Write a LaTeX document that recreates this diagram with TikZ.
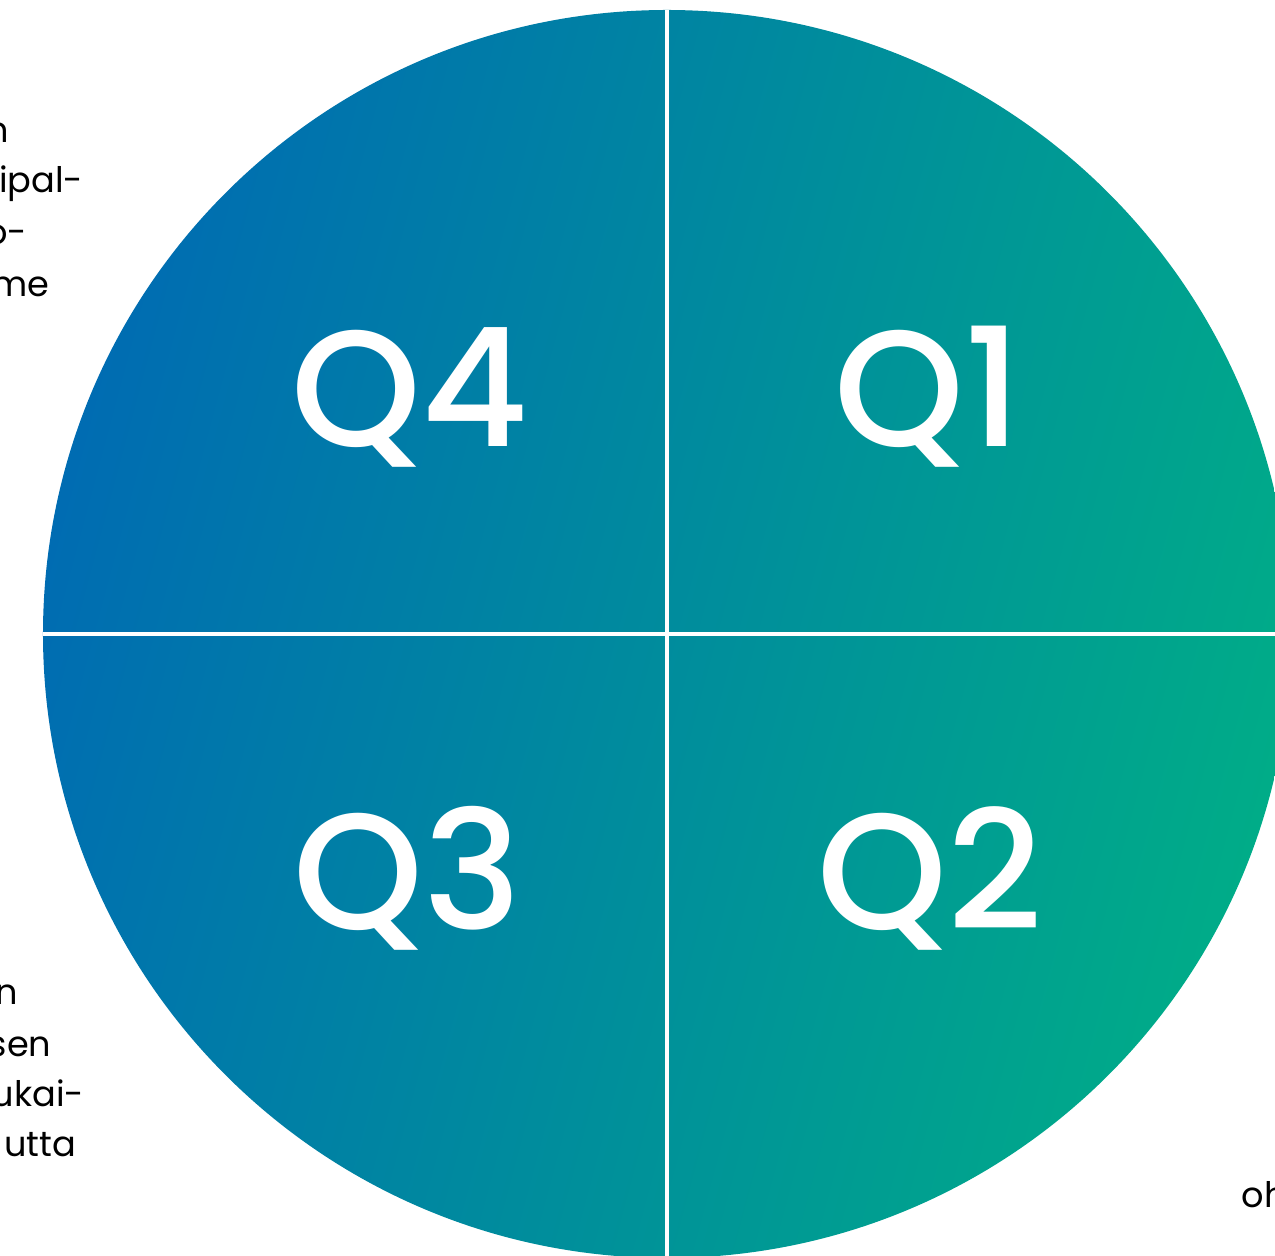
\documentclass[tikz,border=0pt]{standalone}
\usepackage{fontspec}
\setmainfont{Poppins}
\IfFontExistsTF{Poppins Medium}
  {\newfontfamily\quarterfont{Poppins Medium}}
  {\newfontfamily\quarterfont{Poppins}[FakeBold=1.2]}
\usetikzlibrary{calc}
\definecolor{myblue}{RGB}{0, 108, 178}
\definecolor{mygreen}{RGB}{0, 172, 136}
\tikzstyle{quarter} = [text=white, inner sep=0, anchor=base,
    font=\quarterfont\fontsize{47}{47}\selectfont]
\tikzstyle{side} = [text=black, inner sep=0,
    font=\fontsize{10}{14}\selectfont]
\tikzstyle{divider} = [white, line width=0.9pt]

\begin{document}
\begin{tikzpicture}
% frame of the page, cuts the circle and the texts
\clip (-6.67,-6.22) rectangle (6.08,6.34);

% 1. The circle
\shade[left color=myblue, right color=mygreen, shading angle=75] (0,0) circle (6.24);
\coordinate (top) at (0,6.24);
\coordinate (bottom) at (0,-6.24);
\coordinate (left) at (-6.24,0);
\coordinate (right) at (6.24,0);

% 2. The cross
\draw[divider] (top) -- (bottom);
\draw[divider] (left) -- (right);

% 3. Quarters
\node[quarter] (q4) at (-2.57,1.87) {Q4};
\node[quarter] (q1) at (2.61,1.87) {Q1};
\node[quarter] (q3) at (-2.59,-2.96) {Q3};
\node[quarter] (q2) at (2.63,-2.96) {Q2};

%%% TEXT ON THE LEFT, TOP
\node[side, anchor=base east] (a1) at (-6.57,4.91) {n};
\node[side, anchor=base east] (a2) at (-5.83,4.41) {ripal-};
\node[side, anchor=base east] (a3) at (-6.39,3.89) {o-};
\node[side, anchor=base east] (a4) at (-6.17,3.37) {me};

%%% TEXT ON THE LEFT, BOTTOM
\node[side, anchor=base east] (b1) at (-6.48,-3.71) {n};
\node[side, anchor=base east] (b2) at (-6.15,-4.23) {sen};
\node[side, anchor=base east] (b3) at (-5.82,-4.73) {ukai-};
\node[side, anchor=base east] (b4) at (-5.90,-5.23) {utta};

%%% TEXT ON THE RIGHT
\node[side, anchor=base west] (c1) at (5.74,-5.74) {oh};

\end{tikzpicture}
\end{document}
